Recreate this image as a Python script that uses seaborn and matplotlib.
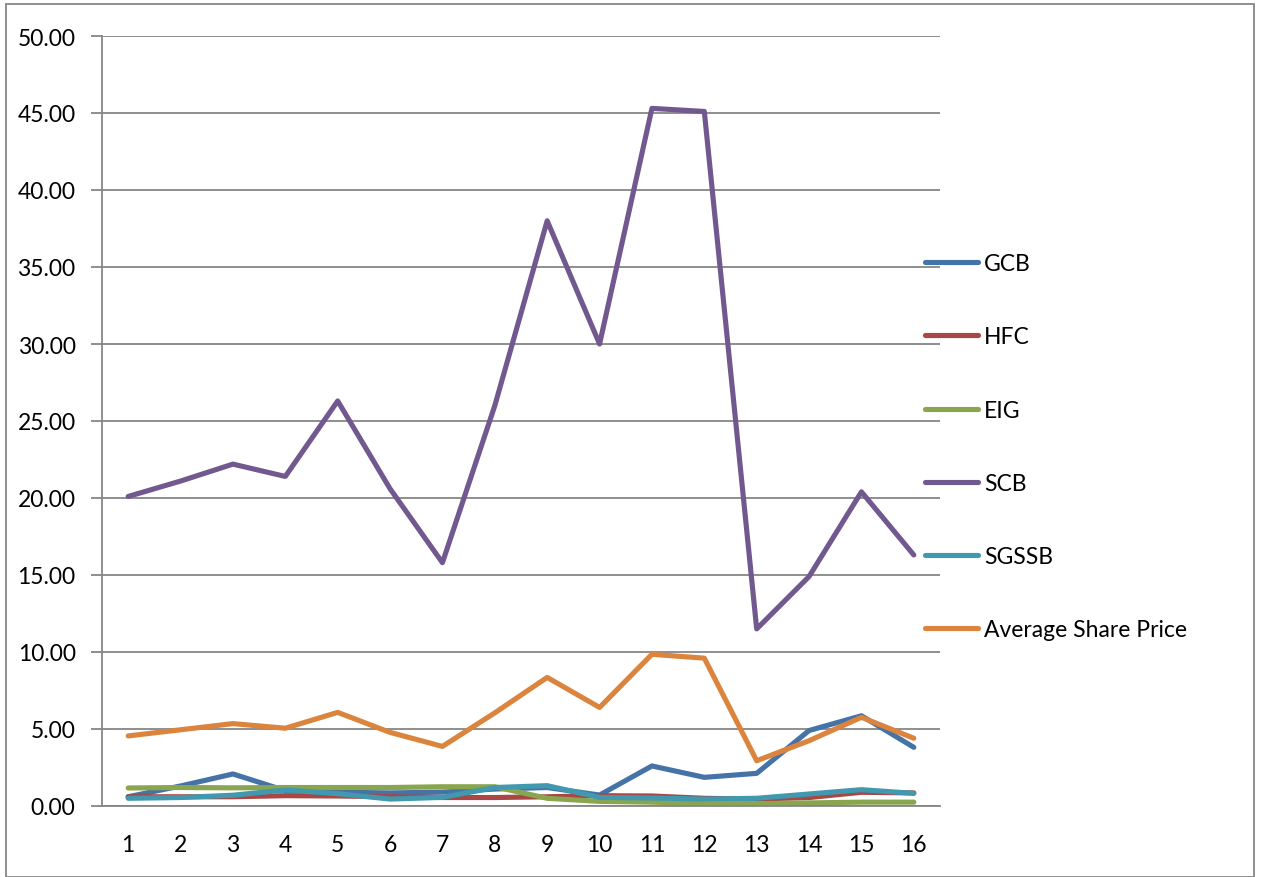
import numpy as np
import pandas as pd
import matplotlib
matplotlib.use("Agg")
import matplotlib.pyplot as plt
from matplotlib.patches import Rectangle
from matplotlib.ticker import FixedLocator, FormatStrFormatter
import seaborn as sns

periods = list(range(1, 17))
gcb = [0.60, 1.30, 2.08, 1.00, 0.90, 0.85, 0.90, 1.10, 1.20, 0.71, 2.60, 1.86, 2.12, 4.90, 5.86, 3.81]
hfc = [0.60, 0.60, 0.60, 0.67, 0.65, 0.60, 0.55, 0.55, 0.60, 0.67, 0.65, 0.50, 0.45, 0.55, 0.89, 0.85]
eig = [1.17, 1.20, 1.18, 1.20, 1.20, 1.20, 1.25, 1.25, 0.50, 0.30, 0.25, 0.15, 0.15, 0.20, 0.25, 0.25]
scb = [20.1, 21.1, 22.2, 21.4, 26.3, 20.6, 15.8, 26.0, 38.0, 30.0, 45.3, 45.1, 11.5, 14.9, 20.4, 16.3]
sgssb = [0.50, 0.55, 0.70, 1.04, 0.80, 0.45, 0.56, 1.20, 1.32, 0.56, 0.52, 0.45, 0.50, 0.78, 1.06, 0.82]
avg = [4.55, 4.95, 5.35, 5.05, 6.08, 4.78, 3.87, 6.05, 8.35, 6.40, 9.85, 9.60, 2.94, 4.24, 5.76, 4.40]

series = {
    "GCB": gcb,
    "HFC": hfc,
    "EIG": eig,
    "SCB": scb,
    "SGSSB": sgssb,
    "Average Share Price": avg,
}
colors = ["#4572A7", "#AA4643", "#89A54E", "#71588F", "#4198AF", "#DB843D"]

df = pd.DataFrame(
    [(p, name, v) for name, vals in series.items() for p, v in zip(periods, vals)],
    columns=["Period", "Series", "Price"],
)

sns.set_style("white")
plt.rcParams["font.family"] = ["Lato", "DejaVu Sans"]
plt.rcParams["text.color"] = "black"
plt.rcParams["xtick.color"] = "black"
plt.rcParams["ytick.color"] = "black"

FS = 16.5
LW = 3.7

fig = plt.figure(figsize=(12.61, 8.78), dpi=100)
ax = fig.add_axes([102 / 1261, 1 - 807 / 878, (940 - 102) / 1261, (807 - 37) / 878])

sns.lineplot(
    data=df, x="Period", y="Price", hue="Series",
    palette=colors, linewidth=LW, ax=ax, legend=False,
    solid_capstyle="round", solid_joinstyle="round",
)

grid_c = "#868686"
ax.set_xlim(0.5, 16.5)
ax.set_ylim(0, 50)
ax.set_yticks(np.arange(0, 50.01, 5))
ax.yaxis.set_major_formatter(FormatStrFormatter("%.2f"))
ax.yaxis.grid(True, color=grid_c, linewidth=1.3)
ax.set_axisbelow(True)

ax.set_xticks(periods)
ax.xaxis.set_minor_locator(FixedLocator(np.arange(0.5, 16.6, 1)))
ax.tick_params(axis="x", which="major", length=0, labelsize=FS, pad=20, labelcolor="black")
ax.tick_params(axis="x", which="minor", length=8, width=1.3, color=grid_c, direction="out")
ax.tick_params(axis="y", which="major", length=8, width=1.3, color=grid_c, direction="out",
               labelsize=FS, pad=11, left=True, labelcolor="black")
ax.set_xlabel("")
ax.set_ylabel("")

for side in ["top", "right"]:
    ax.spines[side].set_visible(False)
for side in ["left", "bottom"]:
    ax.spines[side].set_color(grid_c)
    ax.spines[side].set_linewidth(1.3)

handles = [plt.Line2D([], [], color=c, linewidth=LW, solid_capstyle="round") for c in colors]
fig.legend(
    handles, list(series.keys()),
    loc="upper left", bbox_to_anchor=(916 / 1261, 1 - 245 / 878),
    frameon=False, fontsize=FS, labelspacing=2.28,
    handlelength=2.3, handletextpad=0.28, borderaxespad=0,
)

fig.patches.append(Rectangle((6 / 1261, 0), 1248 / 1261, 1 - 5 / 878,
                             transform=fig.transFigure, fill=False,
                             edgecolor=grid_c, linewidth=1.3))

fig.savefig("out.png", dpi=100)
